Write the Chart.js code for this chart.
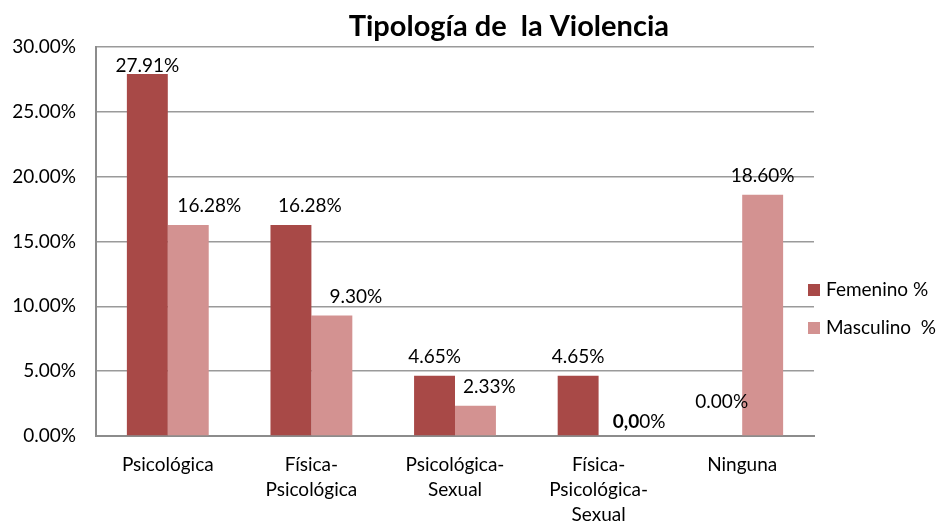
<!DOCTYPE html>
<html>
<head>
<meta charset="utf-8">
<script src="https://cdn.jsdelivr.net/npm/chart.js@4"></script>
<style>
  html, body { margin: 0; padding: 0; background: #fff; }
  #wrap { width: 940px; height: 522px; }
</style>
</head>
<body>
<div id="wrap"><canvas id="violenciaChart" width="940" height="522"></canvas></div>
<script>
// chart values
const categories = [
    ['Psicológica'],
    ['Física-', 'Psicológica'],
    ['Psicológica-', 'Sexual'],
    ['Física-', 'Psicológica-', 'Sexual'],
    ['Ninguna']
];
const femenino = [27.91, 16.28, 4.65, 4.65, 0];
const masculino = [16.28, 9.30, 2.33, 0, 18.60];
const femeninoLabels = ['27.91%', '16.28%', '4.65%', '4.65%', '0.00%'];
const masculinoLabels = ['16.28%', '9.30%', '2.33%', '0,00%', '18.60%'];
const yTicks = [0, 5, 10, 15, 20, 25, 30];
const chartTitle = 'Tipología de  la Violencia';
const seriesNames = ['Femenino %', 'Masculino  %'];
const seriesColors = ['#A84947', '#D39291'];

const FONT = 'Lato, "Open Sans", sans-serif';

document.addEventListener('DOMContentLoaded', function() {
    const ctx = document.getElementById('violenciaChart').getContext('2d');

    // title sits a bit right of the plot centre, like the original
    const titlePlugin = {
        id: 'titleText',
        afterDraw(chart) {
            const c = chart.ctx;
            const area = chart.chartArea;
            c.save();
            c.font = 'bold 29px ' + FONT;
            c.fillStyle = '#000';
            c.textAlign = 'center';
            c.textBaseline = 'middle';
            c.fillText(chartTitle, area.left + area.width * 0.575, 27);
            c.restore();
        }
    };

    // legend on the right, slightly overlapping the plot edge
    const legendPlugin = {
        id: 'sideLegend',
        afterDraw(chart) {
            const c = chart.ctx;
            const area = chart.chartArea;
            c.save();
            c.font = '19px ' + FONT;
            c.textBaseline = 'middle';
            c.textAlign = 'left';
            chart.data.datasets.forEach(function(ds, i) {
                const y = area.top + 243 + i * 38;
                const x = area.right - 6;
                c.fillStyle = ds.backgroundColor;
                c.fillRect(x, y - 6, 12, 12);
                c.fillStyle = '#000';
                c.fillText(ds.label, x + 18, y);
            });
            c.restore();
        }
    };

    // value labels above bars; some are nudged right as in the original
    const labelNudge = [[0, 19, 0, 0, 0], [21, 24, 14, 20, 0]];
    const labelPlugin = {
        id: 'barLabels',
        afterDatasetsDraw(chart) {
            const c = chart.ctx;
            const lists = [femeninoLabels, masculinoLabels];
            c.save();
            c.fillStyle = '#000';
            c.textBaseline = 'middle';
            chart.data.datasets.forEach(function(ds, i) {
                const meta = chart.getDatasetMeta(i);
                meta.data.forEach(function(bar, j) {
                    const text = lists[i][j];
                    const cx = bar.x + labelNudge[i][j];
                    let y = bar.y - 19;
                    if (y < chart.chartArea.top + 19) y = chart.chartArea.top + 19;
                    if (ds.data[j] === 0) y = bar.y - (i === 0 ? 34 : 14);
                    if (text.indexOf('0,0') === 0) {
                        c.font = 'bold 19px ' + FONT;
                        const boldW = c.measureText('0,0').width;
                        c.font = '19px ' + FONT;
                        const restW = c.measureText(text.slice(3)).width;
                        const x0 = cx - (boldW + restW) / 2;
                        c.textAlign = 'left';
                        c.font = 'bold 19px ' + FONT;
                        c.fillText('0,0', x0, y);
                        c.font = '19px ' + FONT;
                        c.fillText(text.slice(3), x0 + boldW, y);
                    } else {
                        c.font = '19px ' + FONT;
                        c.textAlign = 'center';
                        c.fillText(text, cx, y);
                    }
                });
            });
            c.restore();
        }
    };

    new Chart(ctx, {
        type: 'bar',
        data: {
            labels: categories,
            datasets: [
                {
                    label: seriesNames[0],
                    data: femenino,
                    backgroundColor: seriesColors[0],
                    categoryPercentage: 0.57,
                    barPercentage: 1.0
                },
                {
                    label: seriesNames[1],
                    data: masculino,
                    backgroundColor: seriesColors[1],
                    categoryPercentage: 0.57,
                    barPercentage: 1.0
                }
            ]
        },
        options: {
            responsive: false,
            animation: false,
            layout: {
                padding: { top: 47, left: 0, right: 126, bottom: 0 }
            },
            plugins: {
                title: { display: false },
                tooltip: { enabled: false },
                legend: { display: false }
            },
            scales: {
                x: {
                    grid: { display: false, drawTicks: false },
                    border: { display: true, color: '#8c8c8c', width: 2 },
                    ticks: {
                        color: '#000',
                        padding: 17,
                        maxRotation: 0,
                        autoSkip: false,
                        font: { family: FONT, size: 19, lineHeight: 1.3 }
                    },
                    afterFit(scale) { scale.height = 86; }
                },
                y: {
                    min: 0,
                    max: 30,
                    afterBuildTicks(scale) {
                        scale.ticks = yTicks.map(v => ({ value: v }));
                    },
                    grid: { color: '#9a9a9a', lineWidth: 1.5, drawTicks: false },
                    border: { display: true, color: '#8c8c8c', width: 2 },
                    ticks: {
                        color: '#000',
                        padding: 20,
                        font: { family: FONT, size: 19 },
                        callback: function(value) {
                            return value.toFixed(2) + '%';
                        }
                    },
                    afterFit(scale) { scale.width = 96; }
                }
            }
        },
        plugins: [titlePlugin, labelPlugin, legendPlugin]
    });
});
</script>
</body>
</html>
